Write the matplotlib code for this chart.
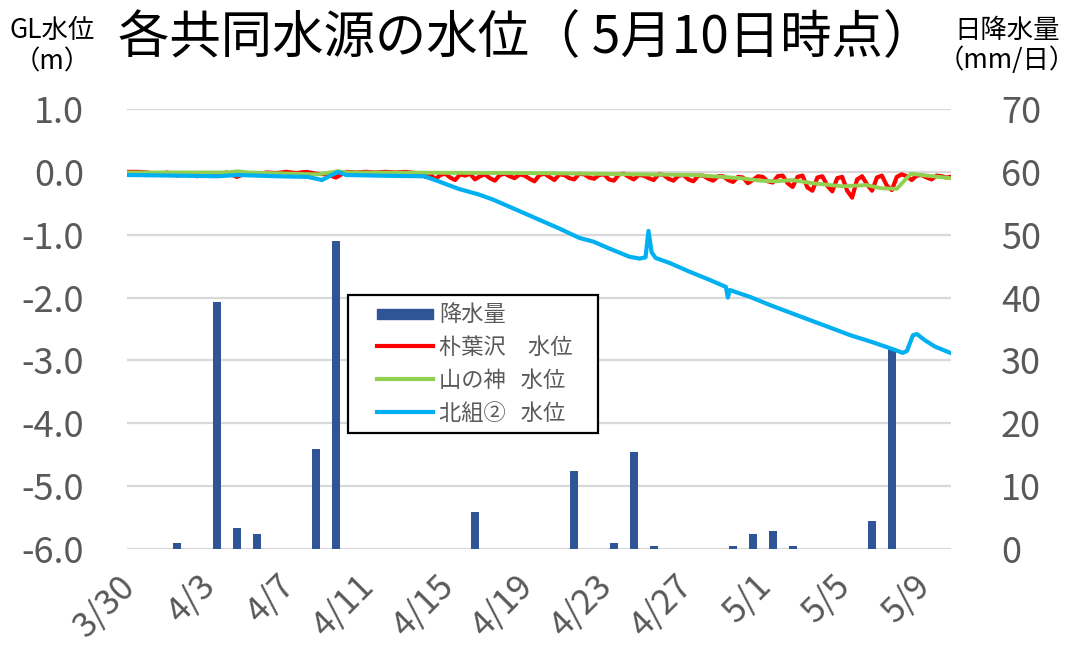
import matplotlib
matplotlib.use("Agg")
import matplotlib.pyplot as plt
import matplotlib.transforms as mtransforms
from matplotlib.lines import Line2D
from matplotlib.patches import Patch, Rectangle
from matplotlib.legend_handler import HandlerLine2D, HandlerPatch
from datetime import date

plt.rcParams['font.family'] = ['Noto Sans CJK JP', 'DejaVu Sans']

# ---------------- data ----------------
start_date = date(2023, 3, 30)
xtick_labels = ["3/30", "4/3", "4/7", "4/11", "4/15", "4/19", "4/23", "4/27", "5/1", "5/5", "5/9"]

precip_dates = ["4/1", "4/3", "4/4", "4/5", "4/8", "4/9", "4/16", "4/21", "4/23", "4/24",
                "4/25", "4/29", "4/30", "5/1", "5/2", "5/6", "5/7"]
precip_mm = [1.0, 39.3, 3.4, 2.4, 15.9, 49.0, 5.9, 12.4, 1.0, 15.4,
             0.4, 0.4, 2.4, 2.9, 0.4, 4.4, 32.0]

# 朴葉沢 water level (days since 3/30, m)
hoba_days = [-0.53, 0.0, 0.5, 1.0, 1.5, 2.0, 2.5, 3.0, 3.5, 4.0, 4.5, 5.0, 5.5, 6.0, 6.5, 7.0,
             7.5, 8.0, 8.5, 9.0, 9.5, 10.0, 10.5, 11.0, 11.5, 12.0, 12.5, 13.0, 13.5,
             14.0, 14.25, 14.5, 14.75, 15.0, 15.25, 15.5, 15.75, 16.0, 16.25, 16.5, 16.75,
             17.0, 17.25, 17.5, 17.75, 18.0, 18.25, 18.5, 18.75, 19.0, 19.25, 19.5, 19.75,
             20.0, 20.25, 20.5, 20.75, 21.0, 21.25, 21.5, 21.75, 22.0, 22.25, 22.5, 22.75,
             23.0, 23.25, 23.5, 23.75, 24.0, 24.25, 24.5, 24.75, 25.0, 25.25, 25.5, 25.75,
             26.0, 26.25, 26.5, 26.75, 27.0, 27.25, 27.5, 27.75, 28.0, 28.25, 28.5, 28.75,
             29.0, 29.25, 29.5, 29.75, 30.0, 30.25, 30.5, 30.75, 31.0, 31.25, 31.5, 31.75,
             32.0, 32.25, 32.5, 32.75, 33.0, 33.25, 33.5, 33.75, 34.0, 34.25, 34.5, 34.75,
             35.0, 35.25, 35.5, 35.75, 36.0, 36.25, 36.5, 36.75, 37.0, 37.25, 37.5, 37.75,
             38.0, 38.25, 38.5, 38.75, 39.0, 39.25, 39.5, 39.75, 40.0, 40.25, 40.5, 40.75, 40.95]
hoba_level = [0.00, 0.00, -0.01, -0.04, -0.01, -0.06, -0.02, -0.07, -0.02, -0.05, -0.01, -0.08,
              -0.02, -0.04, -0.01, -0.02, 0.00, -0.02, 0.00, -0.03, -0.04, -0.09, 0.00, -0.01,
              0.00, -0.01, 0.00, -0.01, 0.00,
              -0.02, -0.03, -0.08, -0.04, -0.12, -0.05, -0.03, -0.09, -0.13, -0.04, -0.06, -0.03,
              -0.12, -0.07, -0.04, -0.10, -0.14, -0.05, -0.03, -0.07, -0.10, -0.04, -0.06, -0.11,
              -0.15, -0.05, -0.03, -0.08, -0.13, -0.04, -0.05, -0.10, -0.12, -0.03, -0.04, -0.09,
              -0.11, -0.05, -0.04, -0.12, -0.14, -0.04, -0.03, -0.08, -0.12, -0.05, -0.06, -0.10,
              -0.13, -0.04, -0.05, -0.11, -0.14, -0.06, -0.05, -0.12, -0.15, -0.06, -0.06, -0.11,
              -0.14, -0.07, -0.07, -0.13, -0.16, -0.08, -0.09, -0.18, -0.13, -0.07, -0.08, -0.15,
              -0.17, -0.07, -0.06, -0.18, -0.24, -0.08, -0.06, -0.25, -0.30, -0.09, -0.07, -0.22,
              -0.31, -0.10, -0.08, -0.30, -0.41, -0.12, -0.07, -0.20, -0.30, -0.09, -0.06, -0.22,
              -0.29, -0.08, -0.04, -0.07, -0.13, -0.06, -0.05, -0.09, -0.12, -0.06, -0.07, -0.09, -0.08]

# 山の神 water level
yama_days = [-0.53, 4.53, 5.04, 5.54, 9.09, 10.10, 10.60, 20.20, 28.02, 30.35, 31.36, 32.17,
             32.98, 33.99, 35.51, 36.73, 37.44, 38.25, 38.96, 39.77, 40.95]
yama_level = [-0.01, -0.01, 0.01, -0.01, -0.04, 0.01, -0.01, -0.02, -0.05, -0.10, -0.14, -0.15,
              -0.13, -0.18, -0.23, -0.21, -0.26, -0.27, -0.03, -0.06, -0.10]

# 北組② water level
kita_days = [-0.53, 2.00, 4.02, 5.04, 7.06, 8.58, 9.29, 10.10, 10.50, 12.12, 14.45, 15.16,
             16.17, 17.19, 17.90, 19.21, 20.22, 21.24, 22.25, 22.96, 23.77, 24.78, 25.29,
             25.59, 25.74, 25.90, 26.10, 26.81, 27.82, 28.83, 29.64, 29.74, 29.84, 30.86,
             31.87, 32.88, 33.89, 34.91, 35.92, 36.93, 37.95, 38.55, 38.76, 39.06, 39.26,
             39.67, 40.17, 40.95]
kita_level = [-0.05, -0.06, -0.07, -0.05, -0.07, -0.08, -0.13, 0.00, -0.05, -0.06, -0.07,
              -0.15, -0.27, -0.36, -0.44, -0.62, -0.76, -0.90, -1.05, -1.11, -1.22, -1.35,
              -1.38, -1.36, -0.94, -1.28, -1.37, -1.45, -1.59, -1.72, -1.83, -2.00, -1.88,
              -1.99, -2.12, -2.24, -2.36, -2.48, -2.60, -2.70, -2.81, -2.88, -2.85, -2.60,
              -2.58, -2.68, -2.78, -2.88]

legend_labels = ["降水量", "朴葉沢　水位", "山の神   水位", "北組②   水位"]

# ---------------- drawing ----------------
def day_offset(md):
    m, d = md.split("/")
    return (date(2023, int(m), int(d)) - start_date).days

C_BAR = "#2F5597"
C_RED = "#FF0000"
C_GREEN = "#92D050"
C_BLUE = "#00B0F0"
C_TXT = "#595959"
C_GRID = "#D9D9D9"

fig = plt.figure(figsize=(10.78, 6.59), dpi=100)
ax = fig.add_axes([127/1078, 1 - 549/659, (951-127)/1078, (549-109)/659])
ax2 = ax.twinx()
ax.set_zorder(ax2.get_zorder() + 1)
ax.patch.set_visible(False)

# bars (right axis)
ax2.bar([day_offset(d) for d in precip_dates], precip_mm, width=0.4, color=C_BAR, zorder=2)
ax2.set_ylim(0, 70)
ax2.set_yticks(range(0, 71, 10))
ax2.grid(axis='y', color=C_GRID, linewidth=1.6, zorder=0)
ax2.set_axisbelow(True)

# lines (left axis)
ax.plot(hoba_days, hoba_level, color=C_RED, lw=3.0, solid_joinstyle='round')
ax.plot(yama_days, yama_level, color=C_GREEN, lw=2.8, solid_joinstyle='round')
ax.plot(kita_days, kita_level, color=C_BLUE, lw=3.0, solid_joinstyle='round')
yt = [1.0, 0.0, -1.0, -2.0, -3.0, -4.0, -5.0, -6.0]
ax.set_ylim(-6.0, 1.0)
ax.set_yticks(yt)
ax.set_yticklabels([f"{v:.1f}" for v in yt])
ax.set_xlim(-0.53, 40.98)
ax.set_xticks(range(0, 41, 4))
ax.set_xticklabels(xtick_labels, rotation=45, ha='right', va='baseline',
                   rotation_mode='anchor', fontsize=25)
shift = mtransforms.ScaledTranslation(6/100, 0, fig.dpi_scale_trans)
for lab in ax.get_xticklabels():
    lab.set_transform(lab.get_transform() + shift)

for a in (ax, ax2):
    for s in a.spines.values():
        s.set_visible(False)
    a.tick_params(length=0, colors=C_TXT)
ax.tick_params(axis='y', pad=31, labelsize=26)
ax.tick_params(axis='x', pad=28)
ax2.tick_params(axis='y', pad=36, labelsize=26)

# legend
handles = [Patch(facecolor=C_BAR, edgecolor=C_BAR),
           Line2D([], [], color=C_RED, lw=3),
           Line2D([], [], color=C_GREEN, lw=3),
           Line2D([], [], color=C_BLUE, lw=3)]

def bar_patch(legend, orig_handle, xdescent, ydescent, width, height, fontsize):
    return Rectangle((-xdescent, -ydescent + height * 0.15), width, height * 0.6)

leg = ax.legend(handles, legend_labels, loc='upper left',
                bbox_to_anchor=(0.268, 0.266, 0.304, 0.311), mode='expand',
                fontsize=16, labelcolor=C_TXT, frameon=True, fancybox=False,
                edgecolor='black', framealpha=1, borderpad=0.35, labelspacing=0.45,
                handlelength=3.5, handletextpad=0.25, borderaxespad=0,
                handler_map={Line2D: HandlerLine2D(xpad=0.95),
                             Patch: HandlerPatch(xpad=0.95, patch_func=bar_patch)})
leg.get_frame().set_linewidth(1.6)

# titles & axis captions
fig.text(118/1078, 1 - 38/659, "各共同水源の水位（ 5月10日時点）", fontsize=37,
         color='black', ha='left', va='center')
fig.text(52/1078, 1 - 30/659, "GL水位", fontsize=19, color='black', ha='center', va='center')
fig.text(52/1078, 1 - 62/659, "（m）", fontsize=19, color='black', ha='center', va='center')
fig.text(1007/1078, 1 - 30/659, "日降水量", fontsize=19, color='black', ha='center', va='center')
fig.text(1007/1078, 1 - 60/659, "（mm/日）", fontsize=19, color='black', ha='center', va='center')

fig.savefig("out.png", dpi=100)
